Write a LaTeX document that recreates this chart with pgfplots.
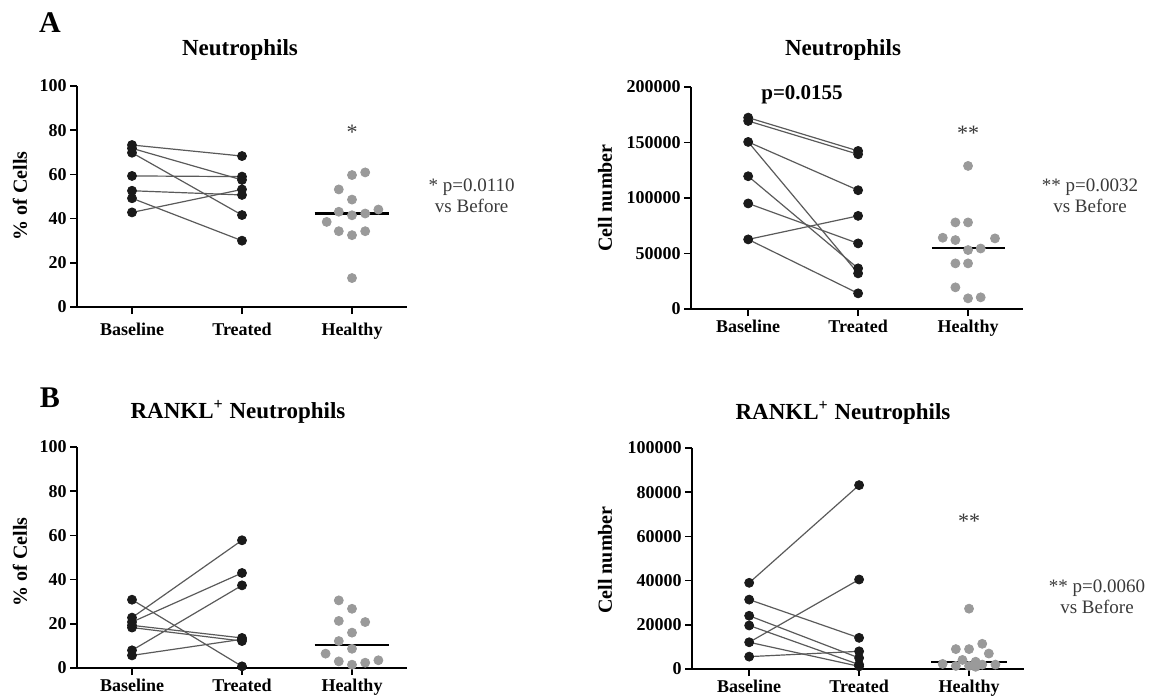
\documentclass[border=0pt]{standalone}
\usepackage{pgfplots}
\pgfplotsset{compat=1.18}
\usepackage{fontspec}
\setmainfont{Liberation Serif}

\definecolor{dotblack}{HTML}{1A1A1A}
\definecolor{dotgrey}{HTML}{9A9A9A}
\definecolor{pairline}{HTML}{5A5A5A}
\definecolor{ptext}{HTML}{3A3A3A}

\pgfplotsset{
  panel/.style={
    scale only axis,
    height=110.5pt,
    axis x line=bottom, axis y line=left,
    axis line style={line width=1pt, -},
    xtick={1,2,3}, xticklabels={Baseline,Treated,Healthy},
    tick style={line width=0.8pt, black},
    tick align=outside, major tick length=3.5pt,
    ticklabel style={font=\bfseries\fontsize{9}{10}\selectfont},
    xticklabel style={inner sep=2pt},
    yticklabel style={inner sep=1.5pt},
    /pgf/number format/assume math mode=true,
    /pgf/number format/1000 sep={},
    /pgf/number format/fixed,
    scaled y ticks=false,
    ymin=0,
    clip=false,
  },
  pair/.style={pairline, line width=0.6pt, mark=none},
  base/.style={only marks, mark=*, mark size=2.25pt, dotblack, mark options={draw=dotblack, fill=dotblack}},
  healthy/.style={only marks, mark=*, mark size=2.25pt, mark options={draw=dotgrey, fill=dotgrey}},
  median/.style={black, line width=1.1pt, mark=none},
}

\begin{document}
\begin{tikzpicture}
\useasboundingbox (0,0) rectangle (574.5pt,348.5pt);

% ---- A, left: % of cells
\begin{axis}[panel, at={(38.5pt,195pt)}, anchor=south west, width=165pt,
  xmin=0.5, xmax=3.5, ymax=100, ytick={0,20,...,100},
  xticklabel style={yshift=-2.25pt}]
\addplot[pair] coordinates {(1,73.3) (2,68.3)};
\addplot[pair] coordinates {(1,71.8) (2,57.5)};
\addplot[pair] coordinates {(1,69.8) (2,41.6)};
\addplot[pair] coordinates {(1,59.3) (2,59.0)};
\addplot[pair] coordinates {(1,52.6) (2,50.7)};
\addplot[pair] coordinates {(1,49.2) (2,30.0)};
\addplot[pair] coordinates {(1,42.8) (2,53.2)};
\addplot[base] coordinates {(1,73.3) (1,71.8) (1,69.8) (1,59.3) (1,52.6) (1,49.2) (1,42.8)
  (2,68.3) (2,57.5) (2,41.6) (2,59.0) (2,50.7) (2,30.0) (2,53.2)};
\addplot[healthy] coordinates {(3,59.7) (3.12,60.9) (2.88,53.2) (3,48.6) (2.88,43.1) (3,41.5)
  (3.12,42.3) (3.24,44.1) (2.77,38.5) (2.88,34.3) (3,32.5) (3.12,34.3) (3,13.1)};
\addplot[median] coordinates {(2.66,42.3) (3.34,42.3)};
\node[font=\fontsize{11}{12}\selectfont, text=ptext] at (axis cs:3,79) {*};
\end{axis}

% ---- A, right: cell number
\begin{axis}[panel, at={(345.5pt,194pt)}, anchor=south west, width=166pt, height=111pt,
  xmin=0.48, xmax=3.5, ymax=200000, ytick={0,50000,...,200000}]
\addplot[pair] coordinates {(1,172400) (2,142400)};
\addplot[pair] coordinates {(1,169400) (2,139400)};
\addplot[pair] coordinates {(1,150500) (2,107000)};
\addplot[pair] coordinates {(1,150500) (2,32100)};
\addplot[pair] coordinates {(1,119600) (2,36600)};
\addplot[pair] coordinates {(1,95100) (2,59100)};
\addplot[pair] coordinates {(1,62700) (2,83900)};
\addplot[pair] coordinates {(1,62700) (2,14100)};
\addplot[base] coordinates {(1,172400) (1,169400) (1,150500) (1,119600) (1,95100) (1,62700)
  (2,142400) (2,139400) (2,107000) (2,32100) (2,36600) (2,59100) (2,83900) (2,14100)};
\addplot[healthy] coordinates {(3,128900) (2.885,78000) (3,78000) (2.77,64200) (2.885,62100)
  (3.245,63600) (3,53100) (3.115,54500) (2.885,41100) (3,41100) (2.885,19500) (3,9600) (3.115,10500)};
\addplot[median] coordinates {(2.67,54600) (3.34,54600)};
\node[font=\fontsize{11}{12}\selectfont, text=ptext] at (axis cs:3,158000) {**};
\node[font=\bfseries\fontsize{10.5}{12}\selectfont] at (axis cs:1.49,192800) {p=0.0155};
\end{axis}

% ---- B, left: % of cells
\begin{axis}[panel, at={(38.5pt,14.5pt)}, anchor=south west, width=165pt,
  xmin=0.5, xmax=3.5, ymax=100, ytick={0,20,...,100}]
\addplot[pair] coordinates {(1,30.9) (2,0.75)};
\addplot[pair] coordinates {(1,22.8) (2,57.8)};
\addplot[pair] coordinates {(1,20.8) (2,43.0)};
\addplot[pair] coordinates {(1,19.3) (2,13.6)};
\addplot[pair] coordinates {(1,18.3) (2,12.2)};
\addplot[pair] coordinates {(1,8.0) (2,37.4)};
\addplot[pair] coordinates {(1,5.7) (2,13.0)};
\addplot[base] coordinates {(1,30.9) (1,22.8) (1,20.8) (1,19.3) (1,18.3) (1,8.0) (1,5.7)
  (2,0.75) (2,57.8) (2,43.0) (2,13.6) (2,12.2) (2,37.4) (2,13.0)};
\addplot[healthy] coordinates {(2.88,30.6) (3,26.8) (2.88,21.3) (3.12,20.8) (3,16.0) (2.88,12.2)
  (3,8.7) (2.76,6.5) (2.88,3.0) (3,1.5) (3.12,2.4) (3.24,3.5)};
\addplot[median] coordinates {(2.66,10.3) (3.34,10.3)};
\end{axis}

% ---- B, right: cell number
\begin{axis}[panel, at={(346pt,14pt)}, anchor=south west, width=166pt,
  xmin=0.48, xmax=3.5, ymax=100000, ytick={0,20000,...,100000}]
\addplot[pair] coordinates {(1,39000) (2,83200)};
\addplot[pair] coordinates {(1,31400) (2,14100)};
\addplot[pair] coordinates {(1,24100) (2,5000)};
\addplot[pair] coordinates {(1,19700) (2,2000)};
\addplot[pair] coordinates {(1,12100) (2,40500)};
\addplot[pair] coordinates {(1,12100) (2,1200)};
\addplot[pair] coordinates {(1,5600) (2,8000)};
\addplot[base] coordinates {(1,39000) (1,31400) (1,24100) (1,19700) (1,12100) (1,5600)
  (2,83200) (2,14100) (2,5000) (2,2000) (2,40500) (2,1200) (2,8000)};
\addplot[healthy] coordinates {(3,27300) (2.88,9000) (3,9000) (3.12,11400) (3.18,7000) (2.76,2300)
  (2.88,1400) (2.94,4100) (3,1400) (3.06,3300) (3.12,2000) (3.24,2000) (3.06,1000)};
\addplot[median] coordinates {(2.655,3300) (3.345,3300)};
\node[font=\fontsize{11}{12}\selectfont, text=ptext] at (axis cs:3,67000) {**};
\end{axis}

% ---- panel letters, titles, axis labels, notes
\node[font=\bfseries\fontsize{15}{16}\selectfont] at (25pt,337pt) {A};
\node[font=\bfseries\fontsize{15}{16}\selectfont] at (25pt,149.5pt) {B};

\node[font=\bfseries\fontsize{11.5}{13}\selectfont] at (120pt,323.5pt) {Neutrophils};
\node[font=\bfseries\fontsize{11.5}{13}\selectfont] at (421.5pt,323.5pt) {Neutrophils};
\node[font=\bfseries\fontsize{11.5}{13}\selectfont] at (119pt,142.5pt) {RANKL\textsuperscript{+} Neutrophils};
\node[font=\bfseries\fontsize{11.5}{13}\selectfont] at (421.5pt,142pt) {RANKL\textsuperscript{+} Neutrophils};

\node[rotate=90, font=\bfseries\fontsize{10}{12}\selectfont] at (10pt,250.5pt) {\% of Cells};
\node[rotate=90, font=\bfseries\fontsize{10}{12}\selectfont] at (302.5pt,249.5pt) {Cell number};
\node[rotate=90, font=\bfseries\fontsize{10}{12}\selectfont] at (10pt,67.5pt) {\% of Cells};
\node[rotate=90, font=\bfseries\fontsize{10}{12}\selectfont] at (302.5pt,68.5pt) {Cell number};

\node[align=center, text=ptext, font=\fontsize{9.5}{10.5}\selectfont] at (235.8pt,250.4pt) {* p=0.0110\\vs Before};
\node[align=center, text=ptext, font=\fontsize{9.5}{10.5}\selectfont] at (545pt,250.4pt) {** p=0.0032\\vs Before};
\node[align=center, text=ptext, font=\fontsize{9.5}{10.5}\selectfont] at (548.5pt,50.2pt) {** p=0.0060\\vs Before};
\end{tikzpicture}
\end{document}
